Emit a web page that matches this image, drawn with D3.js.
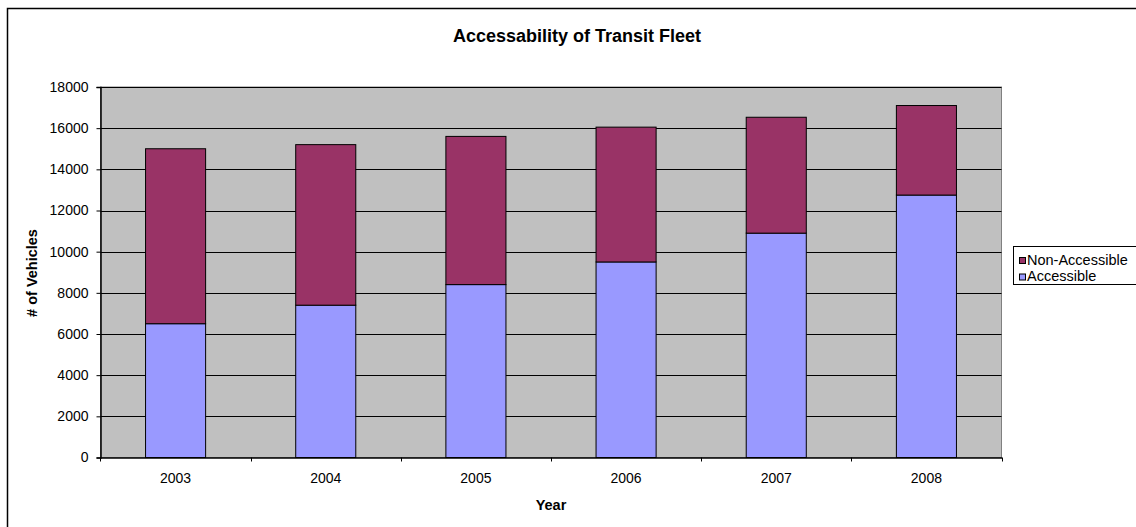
<!DOCTYPE html>
<html><head><meta charset="utf-8">
<script src="https://cdn.jsdelivr.net/npm/d3@7"></script>
<style>html,body{margin:0;padding:0;background:#fff;overflow:hidden}</style>
</head><body>
<svg id="c" width="1136" height="527"></svg>
<script>
const years = ["2003","2004","2005","2006","2007","2008"];
const accessible = [6500, 7400, 8400, 9500, 10900, 12750];
const nonAccessible = [8500, 7800, 7200, 6550, 5630, 4350];
const yTicks = [0,2000,4000,6000,8000,10000,12000,14000,16000,18000];
const seriesNames = ["Accessible","Non-Accessible"];
const colors = {"Accessible":"#9999FF","Non-Accessible":"#993366"};

const font = "'Liberation Sans', Arial, sans-serif";
const svg = d3.select("#c");
const L = 100.5, R = 1001.5, T = 87, B = 457.5;

// outer border
svg.append("rect").attr("x",7.5).attr("y",8.5).attr("width",1140).attr("height",530)
  .attr("fill","#fff").attr("stroke","#000").attr("stroke-width",1.5);

const x = d3.scaleBand().domain(years).range([L,R]).paddingInner(0.6).paddingOuter(0.3);
const xb = d3.scaleBand().domain(years).range([L,R]);
const y = d3.scaleLinear().domain([0,18000]).range([B,T]);

svg.append("rect").attr("x",L).attr("y",T).attr("width",R-L).attr("height",B-T)
  .attr("fill","#C0C0C0").attr("stroke","#808080").attr("stroke-width",1);

// gridlines
svg.append("g").selectAll("line").data(yTicks.filter(d=>d>0)).join("line")
  .attr("x1",L).attr("x2",R).attr("y1",d=>Math.round(y(d))+0.5).attr("y2",d=>Math.round(y(d))+0.5)
  .attr("stroke","#000").attr("stroke-width",1);

// stacked data
const rows = years.map((yr,i)=>({year:yr,"Accessible":accessible[i],"Non-Accessible":nonAccessible[i]}));
const stack = d3.stack().keys(seriesNames)(rows);
svg.append("g").selectAll("g").data(stack).join("g")
  .attr("fill",d=>colors[d.key])
  .selectAll("rect").data(d=>d).join("rect")
  .attr("x",d=>x(d.data.year)).attr("width",x.bandwidth())
  .attr("y",d=>y(d[1])).attr("height",d=>y(d[0])-y(d[1]))
  .attr("stroke","#000").attr("stroke-width",1);

// y axis
const ya = svg.append("g").attr("transform",`translate(${L},0)`)
  .call(d3.axisLeft(y).tickValues(yTicks).tickSize(4).tickPadding(8).tickFormat(d3.format("d")));
ya.select(".domain").attr("stroke","#000").attr("stroke-width",1.5);
ya.selectAll(".tick line").attr("stroke","#000");
ya.selectAll("text").attr("font-family",font).attr("font-size","14px").attr("fill","#000");

// x axis
const xa = svg.append("g").attr("transform",`translate(0,${B})`)
  .call(d3.axisBottom(xb).tickSize(0).tickPadding(16));
xa.select(".domain").attr("stroke","#000").attr("stroke-width",1.5);
xa.selectAll("text").attr("font-family",font).attr("font-size","14px").attr("fill","#000");
// boundary tick marks
svg.append("g").selectAll("line").data(years).join("line")
  .attr("x1",(d,i)=>Math.round(L+xb.step()*(i+1))+0.5).attr("x2",(d,i)=>Math.round(L+xb.step()*(i+1))+0.5)
  .attr("y1",B).attr("y2",B+4).attr("stroke","#000");
svg.append("line").attr("x1",L).attr("x2",L).attr("y1",B).attr("y2",B+4).attr("stroke","#000");

// titles
svg.append("text").attr("x",577).attr("y",42).attr("text-anchor","middle")
  .attr("font-family",font).attr("font-size","18px").attr("font-weight","bold").text("Accessability of Transit Fleet");
svg.append("text").attr("x",551).attr("y",510).attr("text-anchor","middle")
  .attr("font-family",font).attr("font-size","14.5px").attr("font-weight","bold").text("Year");
svg.append("text").attr("transform","translate(36.5,273) rotate(-90)").attr("text-anchor","middle")
  .attr("font-family",font).attr("font-size","14.5px").attr("font-weight","bold").text("# of Vehicles");

// legend
const lg = svg.append("g");
lg.append("rect").attr("x",1013.5).attr("y",246.5).attr("width",140).attr("height",38)
  .attr("fill","#fff").attr("stroke","#000");
const legItems = ["Non-Accessible","Accessible"];
legItems.forEach((k,i)=>{
  lg.append("rect").attr("x",1019.5).attr("y",257.5+i*16.5).attr("width",6).attr("height",6)
    .attr("fill",colors[k]).attr("stroke","#000");
  lg.append("text").attr("x",1027).attr("y",265+i*15.5).attr("font-family",font).attr("font-size","14.5px").text(k);
});
</script>
</body></html>
